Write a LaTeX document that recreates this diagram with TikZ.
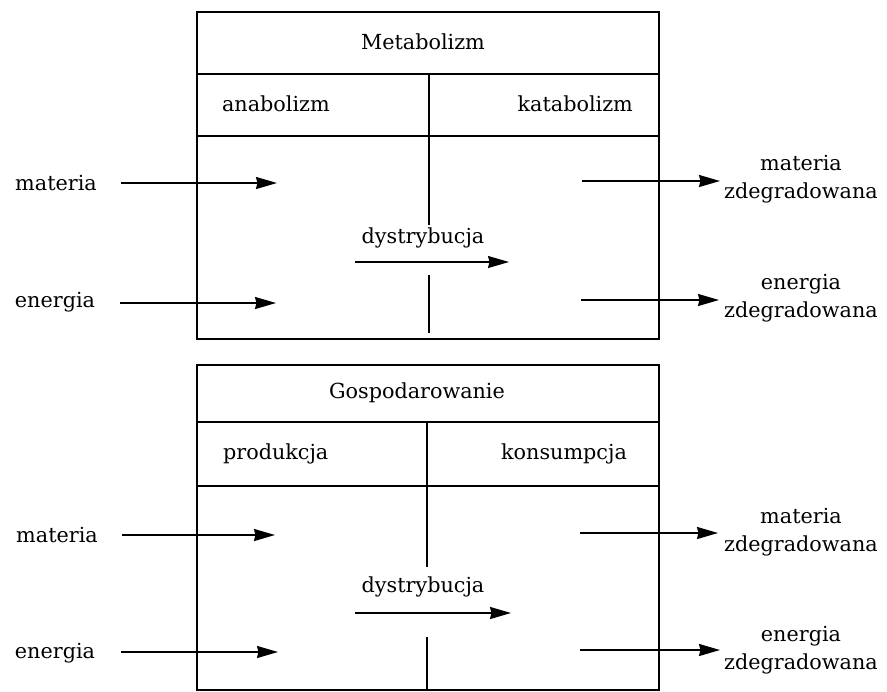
\documentclass[tikz,border=0pt]{standalone}
\usepackage{fontspec}
\setmainfont{DejaVu Serif}
\usetikzlibrary{arrows.meta}

\begin{document}
\begin{tikzpicture}[
        x=0.02cm, y=-0.02cm,
        every node/.style={font=\fontsize{11.8}{16}\selectfont, inner sep=1pt},
        frame/.style={line width=1.2pt},
        divider/.style={line width=0.9pt},
        flow/.style={line width=1pt, -{Stealth[length=0.42cm, width=0.24cm, inset=0.03cm]}},
        label/.style={align=center}
    ]

    \useasboundingbox (0,0) rectangle (887,691);

    % Metabolizm box
    \draw[frame] (197,12) rectangle (659,339);
    \draw[frame] (197,74) -- (659,74);
    \draw[frame] (197,136) -- (659,136);
    \draw[divider] (429,74) -- (429,225);
    \draw[divider] (429,275) -- (429,333);

    \node (meta) at (423,42) {Metabolizm};
    \node[anchor=west] (anab) at (220,104) {anabolizm};
    \node[anchor=east] (katab) at (635,104) {katabolizm};

    % inputs
    \node (mat1) at (56,183) {materia};
    \node (ene1) at (55,302) {energia};
    \coordinate (mat1a) at (121,183);
    \coordinate (mat1b) at (277,183);
    \coordinate (ene1a) at (120,303);
    \coordinate (ene1b) at (276,303);
    \draw[flow] (mat1a) -- (mat1b);
    \draw[flow] (ene1a) -- (ene1b);

    % distribution
    \node (dys1) at (423,238) {dystrybucja};
    \coordinate (dys1a) at (355,262);
    \coordinate (dys1b) at (509,262);
    \draw[flow, line width=0.7pt] (dys1a) -- (dys1b);

    % outputs
    \node[label] (zmat1) at (801,179) {materia\\zdegradowana};
    \node[label] (zene1) at (801,298) {energia\\zdegradowana};
    \coordinate (zmat1a) at (582,181);
    \coordinate (zmat1b) at (720,181);
    \coordinate (zene1a) at (581,300);
    \coordinate (zene1b) at (719,300);
    \draw[flow] (zmat1a) -- (zmat1b);
    \draw[flow] (zene1a) -- (zene1b);

    % Gospodarowanie box
    \draw[frame] (197,365) rectangle (659,690);
    \draw[frame] (197,422) -- (659,422);
    \draw[frame] (197,486) -- (659,486);
    \draw[divider] (427,422) -- (427,567);
    \draw[divider] (427,637) -- (427,690);

    \node (gosp) at (417,393) {Gospodarowanie};
    \node[anchor=west] (prod) at (221,454) {produkcja};
    \node[anchor=east] (kons) at (629,454) {konsumpcja};

    % inputs
    \node (mat2) at (57,535) {materia};
    \node (ene2) at (55,653) {energia};
    \coordinate (mat2a) at (122,535);
    \coordinate (mat2b) at (275,535);
    \coordinate (ene2a) at (121,652);
    \coordinate (ene2b) at (278,652);
    \draw[flow] (mat2a) -- (mat2b);
    \draw[flow] (ene2a) -- (ene2b);

    % distribution
    \node (dys2) at (423,587) {dystrybucja};
    \coordinate (dys2a) at (355,613);
    \coordinate (dys2b) at (511,613);
    \draw[flow] (dys2a) -- (dys2b);

    % outputs
    \node[label] (zmat2) at (801,532) {materia\\zdegradowana};
    \node[label] (zene2) at (801,650) {energia\\zdegradowana};
    \coordinate (zmat2a) at (580,533);
    \coordinate (zmat2b) at (718,533);
    \coordinate (zene2a) at (580,650);
    \coordinate (zene2b) at (720,650);
    \draw[flow] (zmat2a) -- (zmat2b);
    \draw[flow] (zene2a) -- (zene2b);

\end{tikzpicture}
\end{document}
